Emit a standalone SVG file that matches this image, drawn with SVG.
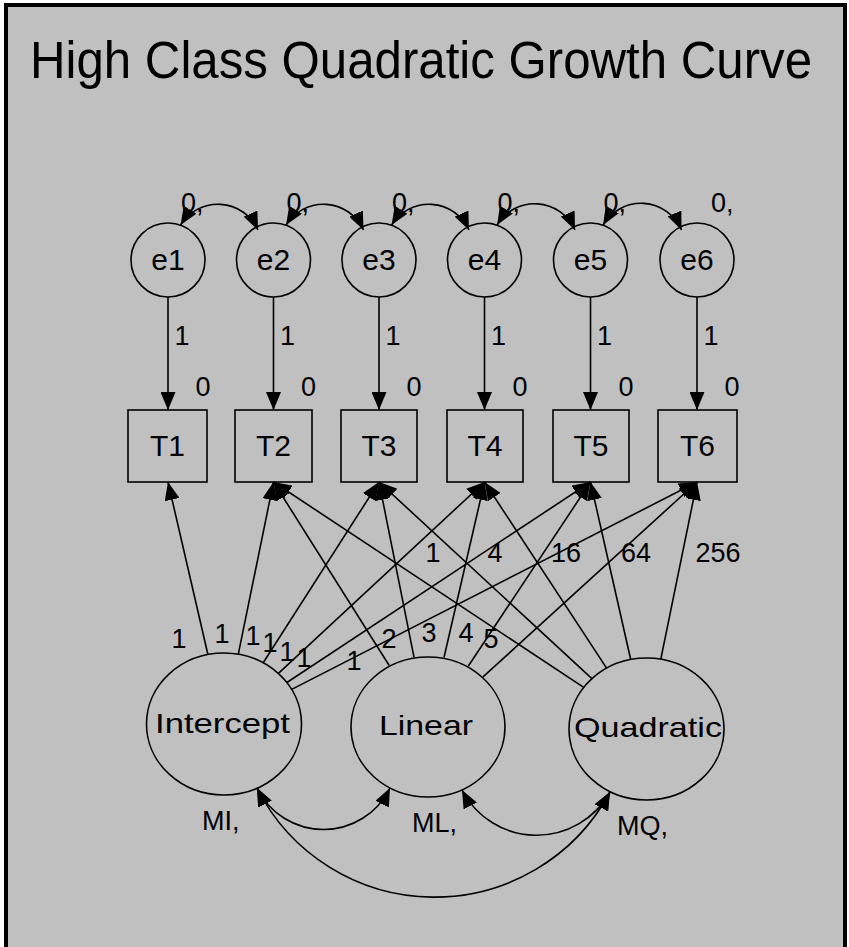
<svg xmlns="http://www.w3.org/2000/svg" width="849" height="947" viewBox="0 0 849 947">
<style>
text{font-family:"Liberation Sans",Arial,sans-serif;fill:#000}
.lbl{font-size:27px}
.nd{font-size:30px;text-anchor:middle}
.lat{font-size:28px;text-anchor:middle}
.shape{fill:none;stroke:#000;stroke-width:1.6}
.con{fill:none;stroke:#000;stroke-width:1.6}
.c{text-anchor:middle}
</style>
<defs>
<marker id="ah" markerWidth="18" markerHeight="15" refX="18" refY="7.5" orient="auto-start-reverse" markerUnits="userSpaceOnUse">
<path d="M0,0 L18,7.5 L0,15 Z" fill="#000"/>
</marker>
</defs>
<rect x="0" y="0" width="849" height="947" fill="#fff"/>
<rect x="4" y="3" width="843" height="944" fill="#c0c0c0"/>
<rect x="4" y="3" width="4" height="944" fill="#000"/>
<rect x="4" y="3" width="843" height="4" fill="#000"/>
<rect x="843" y="3" width="4" height="944" fill="#000"/>
<text x="30" y="78" font-size="51" textLength="782" lengthAdjust="spacingAndGlyphs">High Class Quadratic Growth Curve</text>

<g id="e1"><circle class="shape" cx="168" cy="260" r="37"/><text class="nd" x="168" y="270">e1</text><text class="lbl" x="181" y="212">0,</text></g>
<g id="e2"><circle class="shape" cx="273.5" cy="260" r="37"/><text class="nd" x="273.5" y="270">e2</text><text class="lbl" x="286.5" y="212">0,</text></g>
<g id="e3"><circle class="shape" cx="379" cy="260" r="37"/><text class="nd" x="379" y="270">e3</text><text class="lbl" x="392" y="212">0,</text></g>
<g id="e4"><circle class="shape" cx="484.5" cy="260" r="37"/><text class="nd" x="484.5" y="270">e4</text><text class="lbl" x="497.5" y="212">0,</text></g>
<g id="e5"><circle class="shape" cx="590.5" cy="260" r="37"/><text class="nd" x="590.5" y="270">e5</text><text class="lbl" x="603.5" y="212">0,</text></g>
<g id="e6"><circle class="shape" cx="697" cy="260" r="37"/><text class="nd" x="697" y="270">e6</text><text class="lbl" x="711" y="212">0,</text></g>

<g id="T1"><rect class="shape" x="128" y="410" width="79" height="72"/><text class="nd" x="167.5" y="456">T1</text><text class="lbl c" x="203" y="396">0</text></g>
<g id="T2"><rect class="shape" x="235" y="410" width="77" height="72"/><text class="nd" x="273.5" y="456">T2</text><text class="lbl c" x="308.5" y="396">0</text></g>
<g id="T3"><rect class="shape" x="341" y="410" width="76" height="72"/><text class="nd" x="379" y="456">T3</text><text class="lbl c" x="414" y="396">0</text></g>
<g id="T4"><rect class="shape" x="447" y="410" width="76" height="72"/><text class="nd" x="485" y="456">T4</text><text class="lbl c" x="520" y="396">0</text></g>
<g id="T5"><rect class="shape" x="553" y="410" width="76" height="72"/><text class="nd" x="591" y="456">T5</text><text class="lbl c" x="626" y="396">0</text></g>
<g id="T6"><rect class="shape" x="658" y="410" width="79" height="72"/><text class="nd" x="697.5" y="456">T6</text><text class="lbl c" x="732" y="396">0</text></g>

<g id="Intercept"><ellipse class="shape" cx="224" cy="724" rx="77.5" ry="71"/><text class="lat" x="222.5" y="733" textLength="135" lengthAdjust="spacingAndGlyphs">Intercept</text><text class="lbl" x="202" y="830">MI,</text></g>
<g id="Linear"><ellipse class="shape" cx="428" cy="727" rx="77" ry="70"/><text class="lat" x="426" y="735" textLength="94" lengthAdjust="spacingAndGlyphs">Linear</text><text class="lbl" x="412" y="832">ML,</text></g>
<g id="Quadratic"><ellipse class="shape" cx="646.5" cy="729" rx="77.5" ry="71"/><text class="lat" x="648" y="737" textLength="148" lengthAdjust="spacingAndGlyphs">Quadratic</text><text class="lbl" x="617" y="835">MQ,</text></g>

<g id="connectors">
<path class="con" marker-start="url(#ah)" marker-end="url(#ah)" d="M180.6,225 A44,44 0 0,1 258,230"/>
<path class="con" marker-start="url(#ah)" marker-end="url(#ah)" d="M286.1,225 A44,44 0 0,1 363.5,230"/>
<path class="con" marker-start="url(#ah)" marker-end="url(#ah)" d="M391.6,225 A44,44 0 0,1 469,230"/>
<path class="con" marker-start="url(#ah)" marker-end="url(#ah)" d="M497.1,225 A44,44 0 0,1 575,230"/>
<path class="con" marker-start="url(#ah)" marker-end="url(#ah)" d="M603.1,225 A44,44 0 0,1 681.5,230"/>
<path class="con" marker-end="url(#ah)" d="M168,297 L168,410"/>
<path class="con" marker-end="url(#ah)" d="M273.5,297 L273.5,410"/>
<path class="con" marker-end="url(#ah)" d="M379,297 L379,410"/>
<path class="con" marker-end="url(#ah)" d="M484.5,297 L484.5,410"/>
<path class="con" marker-end="url(#ah)" d="M590.5,297 L590.5,410"/>
<path class="con" marker-end="url(#ah)" d="M697,297 L697,410"/>
<text class="lbl c" x="182" y="345">1</text>
<text class="lbl c" x="287.5" y="345">1</text>
<text class="lbl c" x="393" y="345">1</text>
<text class="lbl c" x="498.5" y="345">1</text>
<text class="lbl c" x="604.5" y="345">1</text>
<text class="lbl c" x="711" y="345">1</text>
<path class="con" marker-end="url(#ah)" d="M207.9,654.5 L168,482"/>
<path class="con" marker-end="url(#ah)" d="M238.3,654.2 L273.5,482"/>
<path class="con" marker-end="url(#ah)" d="M263.2,662.8 L379,482"/>
<path class="con" marker-end="url(#ah)" d="M278.4,673.4 L484.5,482"/>
<path class="con" marker-end="url(#ah)" d="M286.9,682.5 L590.5,482"/>
<path class="con" marker-end="url(#ah)" d="M291.7,689.4 L697,482"/>
<path class="con" marker-end="url(#ah)" d="M389.2,665.5 L273.5,482"/>
<path class="con" marker-end="url(#ah)" d="M414,657.2 L379,482"/>
<path class="con" marker-end="url(#ah)" d="M444,657.5 L484.5,482"/>
<path class="con" marker-end="url(#ah)" d="M468.2,666.3 L590.5,482"/>
<path class="con" marker-end="url(#ah)" d="M483,676.9 L697,482"/>
<path class="con" marker-end="url(#ah)" d="M583.7,687.4 L273.5,482"/>
<path class="con" marker-end="url(#ah)" d="M591.9,678.6 L379,482"/>
<path class="con" marker-end="url(#ah)" d="M606.6,668.1 L484.5,482"/>
<path class="con" marker-end="url(#ah)" d="M630.7,659.5 L590.5,482"/>
<path class="con" marker-end="url(#ah)" d="M660.8,659.2 L697,482"/>
<text class="lbl c" x="179" y="648">1</text>
<text class="lbl c" x="222" y="643">1</text>
<text class="lbl c" x="253" y="645">1</text>
<text class="lbl c" x="270" y="652">1</text>
<text class="lbl c" x="287" y="661">1</text>
<text class="lbl c" x="304" y="667">1</text>
<text class="lbl c" x="354" y="670">1</text>
<text class="lbl c" x="389" y="648">2</text>
<text class="lbl c" x="429" y="642">3</text>
<text class="lbl c" x="466" y="642">4</text>
<text class="lbl c" x="491" y="648">5</text>
<text class="lbl c" x="433" y="562">1</text>
<text class="lbl c" x="495" y="562">4</text>
<text class="lbl c" x="566" y="562">16</text>
<text class="lbl c" x="636" y="562">64</text>
<text class="lbl c" x="718" y="562">256</text>
<path class="con" marker-start="url(#ah)" marker-end="url(#ah)" d="M257,788 A74,74 0 0,0 390,788"/>
<path class="con" marker-start="url(#ah)" marker-end="url(#ah)" d="M462,790 A84,84 0 0,0 610,792"/>
<path class="con" marker-start="url(#ah)" marker-end="url(#ah)" d="M257,788 A199,199 0 0,0 610,792"/>
</g>
</svg>
